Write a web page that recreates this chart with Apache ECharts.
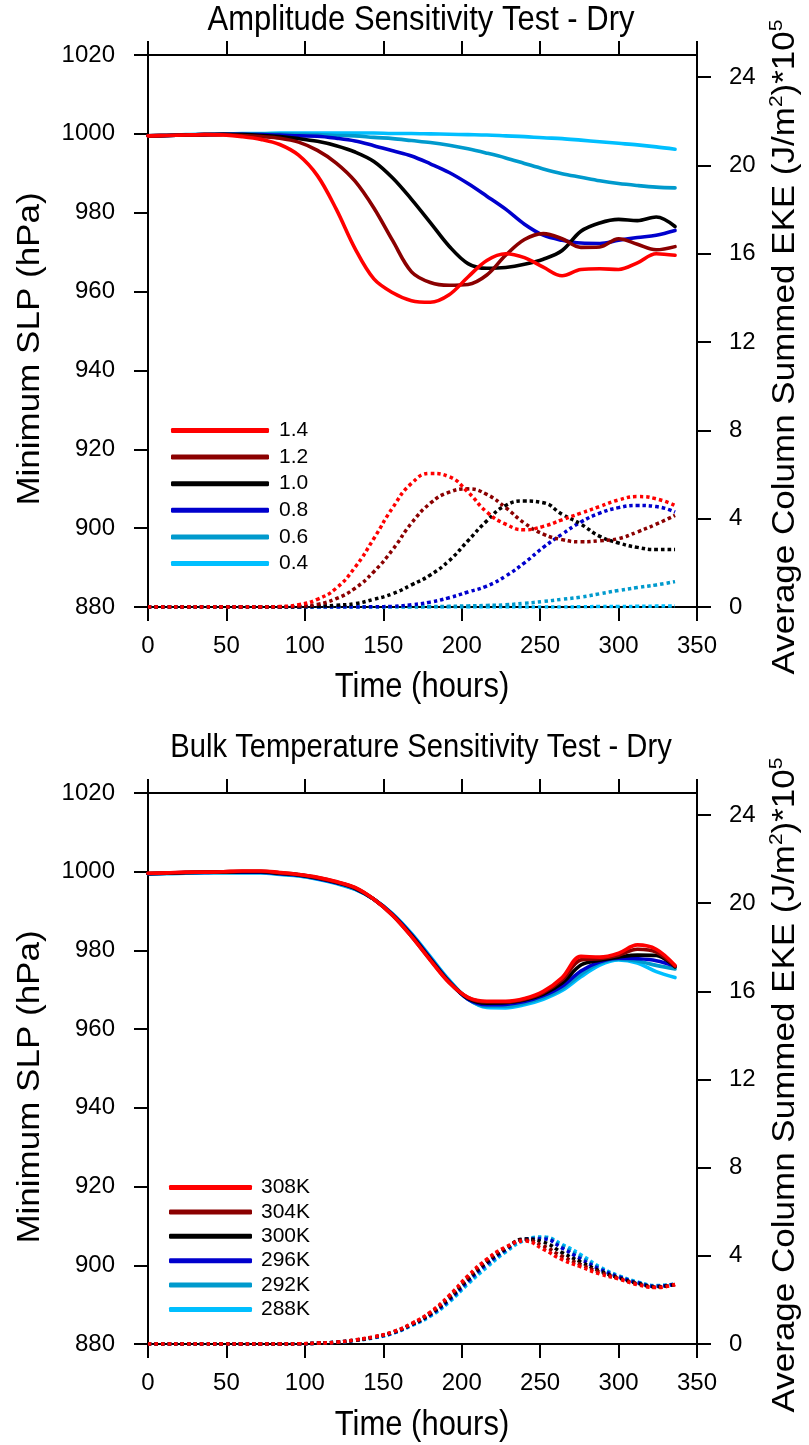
<!DOCTYPE html>
<html><head><meta charset="utf-8">
<script src="https://cdn.jsdelivr.net/npm/echarts@6/dist/echarts.min.js"></script>
<style>html,body{margin:0;padding:0;background:#fff}#c{width:809px;height:1445px}</style>
</head><body><div id="c"></div>
<script>
// ---------- data ----------
const hours = [0,12,24,36,48,60,72,84,96,108,120,132,144,156,168,180,192,204,216,228,240,252,264,276,288,300,312,324,336];
const timeTicks = [0,50,100,150,200,250,300,350];
const ekeTicks = [0,4,8,12,16,20,24];

// Top panel: amplitude test (minimum SLP, hPa)
const ampNames = ['1.4','1.2','1.0','0.8','0.6','0.4'];
const slp14 = [999.5,999.6,999.7,999.8,999.7,999.3,998.6,997.3,994.6,989.4,980.9,970.9,963.2,959.7,957.7,957.3,959.2,963.7,967.9,969.6,968.6,966.2,964.0,965.6,965.8,965.6,967.3,969.6,969.2];
const slp12 = [999.5,999.6,999.7,999.8,999.8,999.6,999.3,998.9,997.9,995.8,992.6,988.0,981.2,972.9,965.0,962.3,961.6,961.8,964.2,969.2,973.2,974.7,973.4,971.2,971.3,973.4,972.0,970.6,971.4];
const slp10 = [999.5,999.6,999.7,999.8,999.9,999.8,999.6,999.3,998.8,998.1,997.0,995.4,993.0,988.8,983.4,977.5,971.5,967.1,965.9,966.1,966.9,968.2,970.4,975.3,977.4,978.3,978.0,978.9,976.5];
const slp08 = [999.5,999.6,999.7,999.8,999.9,999.9,999.8,999.7,999.5,999.4,998.9,998.2,997.0,995.7,994.4,992.4,990.2,987.4,984.2,980.9,977.1,974.3,973.0,972.3,972.2,973.0,973.7,974.3,975.5];
const slp06 = [999.5,999.6,999.7,999.8,999.9,1000.0,1000.0,1000.0,999.9,999.8,999.6,999.5,999.1,998.8,998.3,997.8,997.1,996.2,995.1,993.9,992.5,991.1,989.9,989.0,988.1,987.4,986.9,986.5,986.3];
const slp04 = [999.5,999.6,999.8,999.9,1000.0,1000.1,1000.1,1000.2,1000.2,1000.2,1000.2,1000.2,1000.2,1000.1,1000.1,1000.0,999.9,999.8,999.7,999.5,999.3,999.0,998.8,998.4,998.0,997.6,997.2,996.7,996.1];
// Top panel: EKE (x1e5 J/m2)
const eke14 = [0,0,0,0,0,0,0,0.02,0.1,0.35,0.85,1.8,3.1,4.5,5.6,6.05,5.9,5.2,4.3,3.75,3.5,3.65,3.95,4.25,4.55,4.85,5.0,4.9,4.6];
const eke12 = [0,0,0,0,0,0,0,0,0.03,0.12,0.38,0.85,1.6,2.6,3.8,4.7,5.2,5.35,5.1,4.5,3.8,3.3,3.05,2.95,3.0,3.1,3.4,3.75,4.15];
const eke10 = [0,0,0,0,0,0,0,0,0,0.03,0.08,0.15,0.35,0.6,1.0,1.45,2.1,3.0,3.9,4.6,4.8,4.72,4.2,3.75,3.2,2.9,2.7,2.6,2.6];
const eke08 = [0,0,0,0,0,0,0,0,0,0,0,0,0.01,0.03,0.1,0.22,0.42,0.68,0.95,1.4,2.0,2.7,3.3,3.85,4.25,4.5,4.6,4.55,4.3];
const eke06 = [0,0,0,0,0,0,0,0,0,0,0,0,0,0,0,0.02,0.03,0.05,0.07,0.1,0.17,0.25,0.35,0.45,0.6,0.75,0.88,1.0,1.15];
const eke04 = [0,0,0,0,0,0,0,0,0,0,0,0,0,0,0,0,0,0,0,0,0,0,0,0.01,0.02,0.02,0.03,0.04,0.05];

// Bottom panel: bulk temperature test
const tempNames = ['308K','304K','300K','296K','292K','288K'];
const s308 = [999.6,999.7,999.9,999.9,1000.0,1000.2,1000.2,999.8,999.3,998.6,997.5,996.0,993.0,988.9,983.5,977.5,971.8,968.1,967.1,967.1,967.8,969.6,973.1,978.5,978.3,979.3,981.4,980.3,976.2];
const s304 = [999.6,999.7,999.8,999.9,1000.0,1000.1,1000.1,999.7,999.3,998.5,997.4,995.9,993.0,988.9,983.6,977.6,971.9,968.0,966.9,966.9,967.6,969.3,972.5,977.6,977.9,978.8,980.3,979.6,976.0];
const s300 = [999.5,999.6,999.8,999.9,999.9,1000.0,1000.0,999.6,999.2,998.4,997.3,995.8,993.0,989.0,983.8,977.8,972.0,967.8,966.6,966.7,967.4,968.9,971.7,976.3,977.5,978.3,978.8,978.7,975.8];
const s296 = [999.5,999.6,999.8,999.8,999.9,999.9,999.9,999.5,999.1,998.3,997.2,995.7,993.0,989.1,984.0,978.0,972.1,967.6,966.2,966.3,967.0,968.5,970.9,974.8,977.1,978.0,977.9,977.4,976.0];
const s292 = [999.5,999.6,999.7,999.8,999.8,999.8,999.8,999.4,999.0,998.2,997.1,995.6,993.0,989.2,984.1,978.2,972.3,967.6,965.8,965.8,966.6,968.0,970.3,973.9,976.8,977.8,977.3,976.2,975.3];
const s288 = [999.5,999.5,999.6,999.7,999.7,999.7,999.7,999.3,998.9,998.1,997.0,995.5,993.0,989.3,984.3,978.4,972.5,967.7,965.5,965.4,966.2,967.6,969.8,973.3,976.3,977.6,976.8,974.6,973.1];
const b308 = [0,0,0,0,0,0,0,0,0.01,0.04,0.08,0.19,0.33,0.55,0.93,1.45,2.2,3.1,3.85,4.4,4.67,4.3,3.83,3.5,3.18,2.95,2.69,2.56,2.7];
const b304 = [0,0,0,0,0,0,0,0,0.01,0.04,0.08,0.18,0.32,0.54,0.91,1.41,2.14,3.02,3.79,4.37,4.72,4.45,3.98,3.6,3.26,2.98,2.73,2.58,2.7];
const b300 = [0,0,0,0,0,0,0,0,0.01,0.03,0.08,0.18,0.31,0.52,0.89,1.37,2.07,2.94,3.71,4.32,4.76,4.63,4.15,3.72,3.32,3.0,2.76,2.6,2.7];
const b296 = [0,0,0,0,0,0,0,0,0.01,0.03,0.08,0.17,0.3,0.5,0.87,1.33,2.0,2.86,3.63,4.27,4.75,4.77,4.35,3.85,3.4,3.05,2.78,2.62,2.72];
const b292 = [0,0,0,0,0,0,0,0,0.01,0.03,0.08,0.16,0.29,0.49,0.85,1.3,1.95,2.79,3.56,4.22,4.73,4.83,4.45,3.95,3.45,3.08,2.8,2.64,2.72];
const b288 = [0,0,0,0,0,0,0,0,0.01,0.03,0.08,0.16,0.28,0.48,0.83,1.26,1.9,2.72,3.48,4.17,4.7,4.86,4.52,4.05,3.5,3.1,2.82,2.65,2.72];

const colors = ['#FF0000','#8B0000','#000000','#0000CD','#009ACD','#00BFFF'];
const ampSlp = [slp14,slp12,slp10,slp08,slp06,slp04];
const ampEke = [eke14,eke12,eke10,eke08,eke06,eke04];
const tSlp = [s308,s304,s300,s296,s292,s288];
const tEke = [b308,b304,b300,b296,b292,b288];

// ---------- chart ----------
const FONT = '"Liberation Sans", Arial, Helvetica, sans-serif';
const SQ = 0.885;
const axisLineS = {show:true, onZero:false, lineStyle:{color:'#000', width:2}};
const tickS = {show:true, length:14, lineStyle:{color:'#000', width:2}};
const lab = (m, extra) => Object.assign({show:true, margin:m, fontSize:24, color:'#000', fontFamily:FONT,
  formatter: v => String(v)}, extra||{});

function xAx(gi, pos, showLabel){
  return {type:'value', gridIndex:gi, position:pos, min:0, max:350, interval:50,
    axisLine:axisLineS, axisTick:tickS,
    axisLabel: showLabel ? lab(27) : {show:false}, splitLine:{show:false}};
}
function yLeft(gi){
  return {type:'value', gridIndex:gi, position:'left', min:880, max:1020, interval:20,
    axisLine:axisLineS, axisTick:tickS, axisLabel:lab(33), splitLine:{show:false}};
}
function yRight(gi){
  return {type:'value', gridIndex:gi, position:'right', min:0, max:25, interval:4,
    axisLine:axisLineS, axisTick:Object.assign({customValues:ekeTicks}, tickS),
    axisLabel:lab(32, {customValues:ekeTicks}), splitLine:{show:false}};
}
function line(name, data, color, xi, yi, dotted){
  return {type:'line', name:name, xAxisIndex:xi, yAxisIndex:yi,
    data: hours.map((h,i)=>[h, data[i]]),
    showSymbol:false, symbol:'none', smooth: dotted ? 0.5 : 0.35, silent:true,
    itemStyle:{color:color},
    lineStyle:{color:color, width: dotted ? 3.5 : 3.6, type: dotted ? [3.5,3] : 'solid', cap: dotted ? 'butt' : 'round', join:'round'},
    z: dotted ? 2 : 3};
}

const series = [];
for (let i = 5; i >= 0; i--) series.push(line(ampNames[i]+' EKE', ampEke[i], colors[i], 0, 1, true));
for (let i = 5; i >= 0; i--) series.push(line(ampNames[i], ampSlp[i], colors[i], 0, 0, false));
for (let i = 5; i >= 0; i--) series.push(line(tempNames[i]+' EKE', tEke[i], colors[i], 2, 3, true));
for (let i = 5; i >= 0; i--) series.push(line(tempNames[i], tSlp[i], colors[i], 2, 2, false));

function htxt(t, x, y, fs){
  return {type:'text', x:x, y:y, scaleX:SQ, silent:true,
    style:{text:t, fontSize:fs, fontFamily:FONT, fill:'#000', align:'center', verticalAlign:'middle'}};
}
function vtxt(t, x, y, fs, rich){
  const o = {type:'text', x:x, y:y, rotation:Math.PI/2, scaleY:SQ, silent:true,
    style:{text:t, fontSize:fs, fontFamily:FONT, fill:'#000', align:'center', verticalAlign:'middle'}};
  if (rich) o.style.rich = rich;
  return o;
}
const ekeRich = {
  a:{fontSize:35, fontFamily:FONT, fill:'#000', lineHeight:40},
  s:{fontSize:21, fontFamily:FONT, fill:'#000', lineHeight:24, verticalAlign:'top'}
};
const ekeName = '{a|Average Column Summed EKE (J/m}{s|2}{a|)*10}{s|5}';

const option = {
  animation:false,
  backgroundColor:'#fff',
  textStyle:{fontFamily:FONT},
  grid:[
    {left:148, top:55, width:549, height:552, containLabel:false, outerBoundsMode:'none'},
    {left:148, top:793, width:549, height:551, containLabel:false, outerBoundsMode:'none'}
  ],
  xAxis:[xAx(0,'bottom',true), xAx(0,'top',false), xAx(1,'bottom',true), xAx(1,'top',false)],
  yAxis:[yLeft(0), yRight(0), yLeft(1), yRight(1)],
  legend:[
    {orient:'vertical', left:171, top:420, padding:0, itemWidth:98, itemHeight:5, itemGap:5.6, icon:'roundRect',
     selectedMode:false, data:ampNames,
     textStyle:{fontSize:21, lineHeight:20, color:'#000', fontFamily:FONT, padding:[0,0,0,5]}},
    {orient:'vertical', left:169, top:1177, padding:0, itemWidth:83, itemHeight:5, itemGap:3.4, icon:'roundRect',
     selectedMode:false, data:tempNames,
     textStyle:{fontSize:21, lineHeight:20, color:'#000', fontFamily:FONT, padding:[0,0,0,4]}}
  ],
  graphic:[
    htxt('Amplitude Sensitivity Test - Dry', 421, 20.5, 35),
    htxt('Time (hours)', 422, 687.5, 35),
    htxt('Bulk Temperature Sensitivity Test - Dry', 421, 748, 33),
    htxt('Time (hours)', 422, 1425.5, 35),
    vtxt('Minimum SLP (hPa)', 30, 349, 35),
    vtxt('Minimum SLP (hPa)', 30, 1087, 35),
    vtxt(ekeName, 785, 347, 35, ekeRich),
    vtxt(ekeName, 785, 1085, 35, ekeRich)
  ],
  series:series
};
const chart = echarts.init(document.getElementById('c'), null, {renderer:'canvas'});
chart.setOption(option);
</script>
</body></html>
